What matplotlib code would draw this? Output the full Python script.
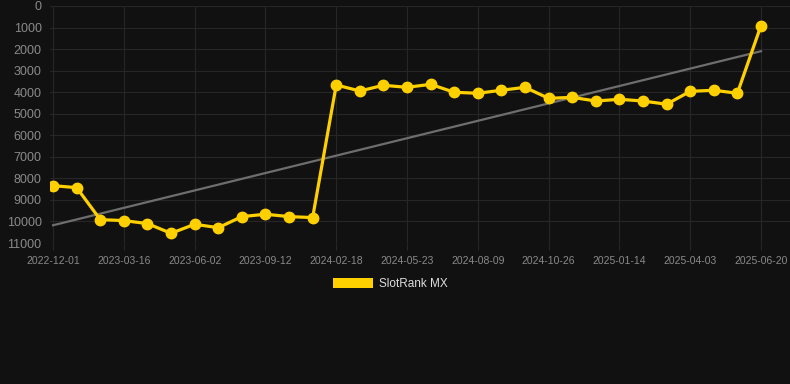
import numpy as np
import matplotlib.pyplot as plt
from matplotlib.patches import Patch

# Rank values (lower = better, axis inverted)
ranks = [8340, 8430, 9915, 9960, 10100, 10550, 10130, 10290, 9775, 9665,
         9775, 9820, 3665, 3945, 3680, 3775, 3635, 4005, 4050, 3910,
         3775, 4285, 4240, 4410, 4330, 4410, 4560, 3960, 3910, 4050, 910]
tick_labels = ["2022-12-01", "2023-03-16", "2023-06-02", "2023-09-12",
               "2024-02-18", "2024-05-23", "2024-08-09", "2024-10-26",
               "2025-01-14", "2025-04-03", "2025-06-20"]
series_name = "SlotRank MX"

bg = "#111111"
yellow = "#FFD000"
grid_c = "#262626"
txt_c = "#8a8a8a"

x = np.arange(len(ranks))
slope, icpt = np.polyfit(x, ranks, 1)
trend = slope * x + icpt

plt.rcParams["font.family"] = ["Liberation Sans", "DejaVu Sans"]
fig = plt.figure(figsize=(7.9, 3.84), dpi=100, facecolor=bg)
ax = fig.add_axes([50 / 790, 141 / 384, 740 / 790, 237 / 384], facecolor=bg)

ax.plot(x, trend, color="#6e6e6e", lw=1.6, zorder=2)
ax.plot(x, ranks, color=yellow, lw=2.3, marker="o", ms=7.5, zorder=3)

ax.set_ylim(11000, 0)
ax.set_yticks(range(0, 11001, 1000))
ax.set_xlim(-0.13, 31.23)
ax.set_xticks(x[::3])
ax.set_xticklabels(tick_labels)
ax.grid(True, color=grid_c, lw=0.8)
ax.set_axisbelow(True)
for s in ax.spines.values():
    s.set_visible(False)
ax.tick_params(axis="y", length=0, pad=6, labelsize=9, labelcolor=txt_c)
ax.tick_params(axis="x", length=5, color=grid_c, pad=4, labelsize=7.5, labelcolor=txt_c)

leg = fig.legend(handles=[Patch(facecolor=yellow, label=series_name)],
                 loc="center", bbox_to_anchor=(0.5 - 5 / 790, 1 - 284 / 384), frameon=False,
                 handlelength=3.4, handleheight=1.0, fontsize=8.5, handletextpad=0.5)
for t in leg.get_texts():
    t.set_color("#dddddd")

fig.savefig("out.png", dpi=100, facecolor=bg)
